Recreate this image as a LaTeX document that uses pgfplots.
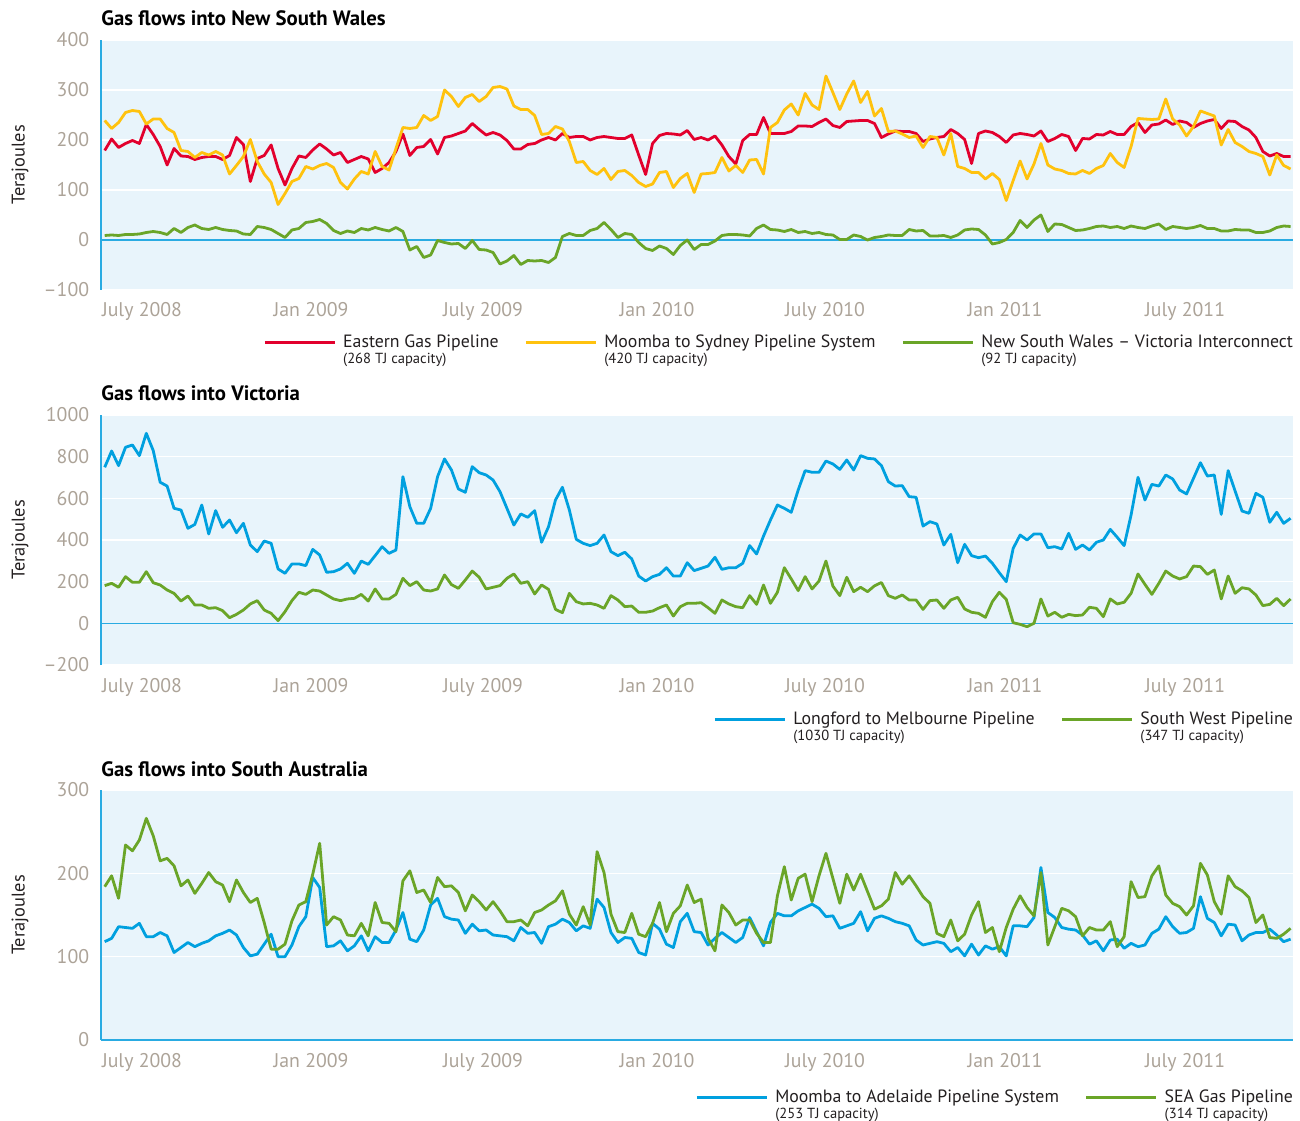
\documentclass[border=0pt]{standalone}
\usepackage{pgfplots}
\pgfplotsset{compat=1.18}
\usepackage{pgfplotstable}
\usepackage{fontspec}
\setmainfont{PT Sans}

\definecolor{bgblue}{RGB}{232,244,251}
\definecolor{axblue}{RGB}{41,171,226}
\definecolor{egpred}{RGB}{226,0,45}
\definecolor{mspyel}{RGB}{255,194,14}
\definecolor{grn}{RGB}{106,165,40}
\definecolor{serblue}{RGB}{0,160,223}
\definecolor{tickgray}{RGB}{172,163,152}
\definecolor{txt}{RGB}{35,31,32}

\newcommand{\ticksize}{\fontsize{9.9}{11}\selectfont}
\newcommand{\titlesize}{\fontsize{10.4}{12}\selectfont}
\newcommand{\ylabsize}{\fontsize{9.2}{11}\selectfont}
\newcommand{\legsize}{\fontsize{8.9}{10}\selectfont}
\newcommand{\capsize}{\fontsize{7.3}{8}\selectfont}
\newcommand{\lent}[2]{\rlap{\raisebox{-8pt}[0pt][0pt]{\capsize #2}}#1}

\pgfplotstableread[row sep=\\]{
w r y g\\
0 179 239 9\\ 1 202 223 10\\ 2 185 235 9\\ 3 193 255 11\\ 4 199 259 11\\ 5 193 257 12\\ 6 231 232 15\\ 7 211 242 17\\ 8 187 242 15\\ 9 150 223 11\\
10 183 215 23\\ 11 168 179 15\\ 12 167 177 25\\ 13 161 165 30\\ 14 165 175 23\\ 15 167 170 21\\ 16 167 177 25\\ 17 161 170 21\\ 18 169 132 19\\ 19 205 149 18\\
20 191 167 12\\ 21 117 201 11\\ 22 163 157 27\\ 23 169 132 25\\ 24 190 115 21\\ 25 143 71 13\\ 26 110 93 5\\ 27 143 117 20\\ 28 168 123 23\\ 29 165 147 35\\
30 180 142 37\\ 31 192 149 41\\ 32 182 153 33\\ 33 170 145 19\\ 34 175 115 13\\ 35 155 102 18\\ 36 161 122 15\\ 37 167 137 23\\ 38 162 132 20\\ 39 135 177 25\\
40 143 147 21\\ 41 155 140 18\\ 42 177 183 25\\ 43 212 225 17\\ 44 169 223 -20\\ 45 185 225 -13\\ 46 187 249 -35\\ 47 201 239 -30\\ 48 172 247 -1\\ 49 205 300 -5\\
50 208 287 -8\\ 51 213 267 -7\\ 52 218 285 -17\\ 53 233 291 -1\\ 54 221 277 -19\\ 55 210 287 -20\\ 56 215 305 -25\\ 57 210 307 -48\\ 58 199 302 -42\\ 59 182 268 -31\\
60 182 261 -49\\ 61 191 261 -41\\ 62 193 249 -42\\ 63 200 211 -41\\ 64 205 213 -45\\ 65 200 227 -35\\ 66 213 222 7\\ 67 205 197 13\\ 68 207 155 9\\ 69 207 157 9\\
70 200 139 19\\ 71 205 131 23\\ 72 207 143 35\\ 73 205 121 21\\ 74 203 137 5\\ 75 203 139 13\\ 76 210 129 11\\ 77 170 115 -5\\ 78 131 107 -17\\ 79 193 112 -21\\
80 209 135 -12\\ 81 213 137 -17\\ 82 212 105 -29\\ 83 210 123 -11\\ 84 219 133 0\\ 85 201 95 -19\\ 86 205 132 -9\\ 87 200 133 -9\\ 88 208 135 -2\\ 89 190 165 9\\
90 167 138 11\\ 91 152 149 11\\ 92 199 135 10\\ 93 211 160 8\\ 94 211 161 23\\ 95 245 132 30\\ 96 213 225 21\\ 97 213 235 20\\ 98 213 260 17\\ 99 217 272 21\\
100 228 250 15\\ 101 228 293 17\\ 102 227 270 13\\ 103 235 261 15\\ 104 242 328 11\\ 105 229 295 10\\ 106 225 261 1\\ 107 237 292 1\\ 108 238 318 10\\ 109 239 275 7\\
110 239 297 0\\ 111 233 248 5\\ 112 205 263 7\\ 113 212 217 10\\ 114 218 218 9\\ 115 217 212 9\\ 116 217 205 21\\ 117 213 208 18\\ 118 197 185 19\\ 119 202 207 8\\
120 205 205 8\\ 121 207 170 9\\ 122 221 213 5\\ 123 213 147 10\\ 124 201 143 20\\ 125 153 135 22\\ 126 213 135 21\\ 127 218 122 10\\ 128 215 133 -8\\ 129 207 121 -5\\
130 195 79 1\\ 131 210 119 15\\ 132 213 158 39\\ 133 211 122 25\\ 134 208 152 40\\ 135 218 193 50\\ 136 197 150 17\\ 137 203 142 32\\ 138 211 139 31\\ 139 207 133 25\\
140 179 132 19\\ 141 203 139 20\\ 142 202 133 23\\ 143 211 143 27\\ 144 210 149 28\\ 145 217 173 25\\ 146 211 155 27\\ 147 211 145 23\\ 148 227 187 28\\ 149 235 243 25\\
150 215 242 23\\ 151 230 241 28\\ 152 232 242 32\\ 153 240 282 21\\ 154 231 242 27\\ 155 238 230 25\\ 156 235 208 23\\ 157 225 227 25\\ 158 233 258 29\\ 159 238 253 23\\
160 241 248 23\\ 161 223 190 18\\ 162 238 221 18\\ 163 237 195 21\\ 164 227 187 20\\ 165 220 177 20\\ 166 205 173 15\\ 167 177 167 15\\ 168 168 130 18\\ 169 173 170 25\\
170 167 149 28\\ 171 167 142 27\\
}\nsw

\pgfplotstableread[row sep=\\]{
w l s\\
0 749 181\\ 1 827 192\\ 2 757 173\\ 3 845 224\\ 4 856 197\\ 5 805 197\\ 6 912 248\\ 7 829 195\\ 8 677 184\\ 9 659 160\\
10 552 144\\ 11 544 107\\ 12 456 131\\ 13 475 88\\ 14 568 88\\ 15 429 72\\ 16 541 75\\ 17 461 61\\ 18 496 27\\ 19 435 43\\
20 480 64\\ 21 376 93\\ 22 344 109\\ 23 395 64\\ 24 384 48\\ 25 261 13\\ 26 240 56\\ 27 285 109\\ 28 285 149\\ 29 277 139\\
30 355 160\\ 31 328 155\\ 32 245 136\\ 33 248 117\\ 34 261 109\\ 35 288 117\\ 36 240 120\\ 37 299 139\\ 38 283 107\\ 39 325 165\\
40 368 117\\ 41 336 117\\ 42 352 139\\ 43 704 216\\ 44 560 181\\ 45 480 200\\ 46 480 160\\ 47 552 155\\ 48 704 165\\ 49 789 232\\
50 736 186\\ 51 645 168\\ 52 629 208\\ 53 752 251\\ 54 723 221\\ 55 712 165\\ 56 688 173\\ 57 632 181\\ 58 552 216\\ 59 472 237\\
60 525 192\\ 61 509 200\\ 62 541 141\\ 63 389 184\\ 64 464 163\\ 65 592 67\\ 66 653 51\\ 67 544 144\\ 68 403 104\\ 69 384 93\\
70 373 96\\ 71 384 88\\ 72 424 72\\ 73 344 133\\ 74 325 112\\ 75 341 80\\ 76 309 83\\ 77 227 53\\ 78 203 53\\ 79 224 59\\
80 235 75\\ 81 267 88\\ 82 227 35\\ 83 227 80\\ 84 291 96\\ 85 253 96\\ 86 264 99\\ 87 275 75\\ 88 317 48\\ 89 259 112\\
90 267 93\\ 91 267 80\\ 92 288 75\\ 93 373 133\\ 94 333 91\\ 95 419 184\\ 96 496 96\\ 97 568 149\\ 98 552 267\\ 99 533 213\\
100 640 157\\ 101 733 224\\ 102 725 165\\ 103 725 203\\ 104 779 299\\ 105 765 179\\ 106 739 133\\ 107 784 221\\ 108 736 152\\ 109 805 173\\
110 792 152\\ 111 789 180\\ 112 757 196\\ 113 680 133\\ 114 659 120\\ 115 661 136\\ 116 608 112\\ 117 605 112\\ 118 467 67\\ 119 488 109\\
120 477 112\\ 121 376 72\\ 122 427 112\\ 123 291 125\\ 124 379 69\\ 125 325 53\\ 126 315 48\\ 127 323 29\\ 128 288 104\\ 129 243 149\\
130 200 115\\ 131 360 3\\ 132 424 -5\\ 133 400 -16\\ 134 429 0\\ 135 429 117\\ 136 363 35\\ 137 368 53\\ 138 357 29\\ 139 432 43\\
140 355 37\\ 141 376 40\\ 142 352 77\\ 143 389 72\\ 144 400 32\\ 145 451 117\\ 146 413 93\\ 147 373 101\\ 148 520 144\\ 149 701 237\\
150 592 187\\ 151 667 139\\ 152 659 192\\ 153 712 251\\ 154 693 227\\ 155 640 213\\ 156 621 224\\ 157 696 275\\ 158 771 272\\ 159 707 235\\
160 712 256\\ 161 523 117\\ 162 733 227\\ 163 635 144\\ 164 539 171\\ 165 528 165\\ 166 624 136\\ 167 605 85\\ 168 485 91\\ 169 533 120\\
170 480 85\\ 171 504 117\\
}\vic

\pgfplotstableread[row sep=\\]{
w m s\\
0 118 184\\ 1 122 197\\ 2 136 170\\ 3 135 234\\ 4 134 227\\ 5 140 240\\ 6 124 266\\ 7 124 245\\ 8 129 215\\ 9 125 218\\
10 105 209\\ 11 111 185\\ 12 117 192\\ 13 112 176\\ 14 116 188\\ 15 119 201\\ 16 125 190\\ 17 128 186\\ 18 132 166\\ 19 126 192\\
20 111 177\\ 21 101 165\\ 22 103 170\\ 23 115 141\\ 24 127 109\\ 25 100 109\\ 26 100 115\\ 27 114 143\\ 28 136 162\\ 29 148 166\\
30 195 199\\ 31 183 236\\ 32 112 138\\ 33 113 148\\ 34 119 144\\ 35 107 126\\ 36 113 125\\ 37 125 140\\ 38 107 125\\ 39 124 165\\
40 117 141\\ 41 117 140\\ 42 132 130\\ 43 153 191\\ 44 121 203\\ 45 118 177\\ 46 132 180\\ 47 162 165\\ 48 170 195\\ 49 148 184\\
50 145 185\\ 51 144 177\\ 52 128 155\\ 53 139 174\\ 54 131 166\\ 55 132 156\\ 56 126 166\\ 57 125 155\\ 58 124 142\\ 59 119 142\\
60 135 144\\ 61 128 137\\ 62 129 153\\ 63 116 156\\ 64 136 162\\ 65 139 167\\ 66 145 179\\ 67 141 151\\ 68 131 138\\ 69 137 160\\
70 134 138\\ 71 169 226\\ 72 159 201\\ 73 129 151\\ 74 117 130\\ 75 123 129\\ 76 122 152\\ 77 105 127\\ 78 102 124\\ 79 140 140\\
80 133 165\\ 81 115 130\\ 82 111 152\\ 83 142 161\\ 84 152 186\\ 85 130 165\\ 86 129 169\\ 87 114 122\\ 88 122 107\\ 89 129 162\\
90 123 153\\ 91 117 138\\ 92 123 144\\ 93 147 144\\ 94 130 128\\ 95 113 117\\ 96 141 117\\ 97 152 173\\ 98 149 208\\ 99 149 168\\
100 155 194\\ 101 159 199\\ 102 163 166\\ 103 158 197\\ 104 148 224\\ 105 149 194\\ 106 134 164\\ 107 137 199\\ 108 140 180\\ 109 154 199\\
110 131 178\\ 111 146 157\\ 112 149 161\\ 113 146 169\\ 114 142 201\\ 115 140 187\\ 116 137 197\\ 117 120 185\\ 118 114 172\\ 119 116 164\\
120 118 128\\ 121 116 124\\ 122 106 144\\ 123 111 119\\ 124 101 127\\ 125 115 150\\ 126 102 166\\ 127 113 129\\ 128 109 135\\ 129 112 106\\
130 101 135\\ 131 137 157\\ 132 137 173\\ 133 136 159\\ 134 147 149\\ 135 207 201\\ 136 153 114\\ 137 147 136\\ 138 135 158\\ 139 133 155\\
140 132 148\\ 141 126 125\\ 142 115 135\\ 143 119 132\\ 144 107 132\\ 145 120 142\\ 146 121 112\\ 147 110 124\\ 148 116 190\\ 149 112 171\\
150 114 172\\ 151 128 197\\ 152 133 209\\ 153 148 174\\ 154 136 164\\ 155 128 160\\ 156 129 150\\ 157 134 161\\ 158 172 212\\ 159 146 198\\
160 141 166\\ 161 125 151\\ 162 139 197\\ 163 138 184\\ 164 119 179\\ 165 126 171\\ 166 129 141\\ 167 129 150\\ 168 133 123\\ 169 126 122\\
170 118 127\\ 171 121 134\\
}\sa

\pgfplotsset{
  panel/.style={
    scale only axis, width=596pt, height=125pt,
    xmin=-0.534, xmax=171.35,
    axis background/.style={fill=bgblue},
    axis x line*=bottom, axis y line*=left,
    axis line style={-},
    x axis line style={draw=none},
    y axis line style={draw=axblue, line width=1.2pt},
    major tick length=0pt,
    ymajorgrids, major grid style={draw=white, line width=0.75pt},
    xtick={5.38,29.75,54.55,79.65,103.87,129.83,155.79},
    xticklabels={July 2008,Jan 2009,July 2009,Jan 2010,July 2010,Jan 2011,July 2011},
    xticklabel style={anchor=base, inner sep=0pt, yshift=-13.5pt, font=\ticksize, text=tickgray},
    yticklabel style={anchor=east, inner sep=0pt, xshift=-5.75pt, font=\ticksize, text=tickgray},
    ylabel={Terajoules},
    every axis y label/.style={at={(axis description cs:-0.068,0.5)}, rotate=90, anchor=center, font=\ylabsize, text=txt},
    title style={at={(axis description cs:0,1)}, anchor=base west, yshift=1pt, font=\titlesize\bfseries, text=black, inner sep=0pt},
    legend columns=-1,
    legend cell align=left,
    legend style={draw=none, fill=none, font=\legsize, text=txt, inner sep=0pt, outer sep=0pt,
      anchor=north east, column sep=3.5pt, nodes={inner sep=0pt},
      /tikz/every even column/.append style={column sep=13pt}},
    legend image code/.code={\draw[#1, line width=1.4pt] (0pt,0pt) -- (35pt,0pt);},
    every axis plot/.append style={line width=1.4pt, line join=round, no markers},
  }
}

\begin{document}
\begin{tikzpicture}
\path[use as bounding box] (0,0) rectangle (650pt,560pt);

% Panel 1
\begin{axis}[panel, at={(50.5pt,415pt)}, anchor=south west,
  title={Gas flows into New South Wales},
  ymin=-100, ymax=400, ytick={-100,0,100,200,300,400},
  yticklabels={\textendash100,0,100,200,300,400},
  extra y ticks={0}, extra y tick labels={},
  extra y tick style={grid=major, major grid style={draw=axblue, line width=0.8pt}},
  legend style={at={(axis description cs:1,-0.18)}}]
\addplot[egpred] table[x=w, y=r] {\nsw};
\addlegendentry{\lent{Eastern Gas Pipeline}{(268 TJ capacity)}}
\addplot[mspyel] table[x=w, y=y] {\nsw};
\addlegendentry{\lent{Moomba to Sydney Pipeline System}{(420 TJ capacity)}}
\addplot[grn] table[x=w, y=g] {\nsw};
\addlegendentry{\lent{New South Wales \textendash{} Victoria Interconnect}{(92 TJ capacity)}}
\end{axis}

% Panel 2
\begin{axis}[panel, at={(50.5pt,227.5pt)}, anchor=south west,
  title={Gas flows into Victoria},
  ymin=-200, ymax=1000, ytick={-200,0,200,400,600,800,1000},
  yticklabels={\textendash200,0,200,400,600,800,1000},
  extra y ticks={0}, extra y tick labels={},
  extra y tick style={grid=major, major grid style={draw=axblue, line width=0.8pt}},
  legend style={at={(axis description cs:1,-0.186)}}]
\addplot[serblue] table[x=w, y=l] {\vic};
\addlegendentry{\lent{Longford to Melbourne Pipeline}{(1030 TJ capacity)}}
\addplot[grn] table[x=w, y=s] {\vic};
\addlegendentry{\lent{South West Pipeline}{(347 TJ capacity)}}
\end{axis}

% Panel 3
\begin{axis}[panel, at={(50.5pt,40pt)}, anchor=south west,
  title={Gas flows into South Australia},
  ymin=0, ymax=300, ytick={0,100,200,300},
  yticklabels={0,100,200,300},
  x axis line style={draw=axblue, line width=1.2pt},
  legend style={at={(axis description cs:1,-0.198)}}]
\addplot[serblue] table[x=w, y=m] {\sa};
\addlegendentry{\lent{Moomba to Adelaide Pipeline System}{(253 TJ capacity)}}
\addplot[grn] table[x=w, y=s] {\sa};
\addlegendentry{\lent{SEA Gas Pipeline}{(314 TJ capacity)}}
\end{axis}
\end{tikzpicture}
\end{document}
